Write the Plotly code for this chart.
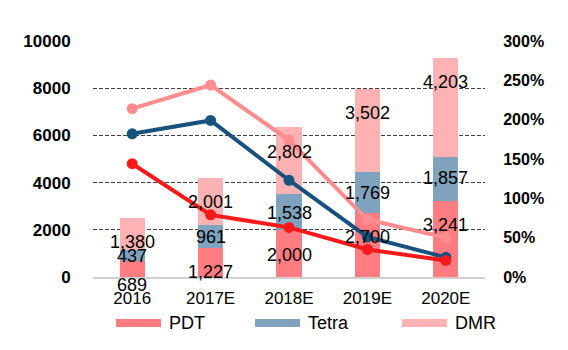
import plotly.graph_objects as go

categories = ["2016", "2017E", "2018E", "2019E", "2020E"]
pdt = [689, 1227, 2000, 2700, 3241]
tetra = [437, 961, 1538, 1769, 1857]
dmr = [1380, 2001, 2802, 3502, 4203]

# growth-rate lines (right axis, fraction)
line_pink = [2.14, 2.44, 1.74, 0.73, 0.50]
line_blue = [1.82, 1.99, 1.23, 0.51, 0.25]
line_red = [1.44, 0.79, 0.63, 0.35, 0.21]

# how far below each segment's top its label sits (value units)
drop_pdt = [1020, 1000, 1070, 995, 1040]
drop_tetra = [237, 482, 817, 901, 895]
drop_dmr = [1010, 1000, 1037, 1018, 1036]

series_names = ["PDT", "Tetra", "DMR"]

Y_MAX = 10000

C_PDT = "#FF7C80"
C_TETRA = "#7FA3BF"
C_DMR = "#FFB2B3"
C_LPINK = "#FF8C8E"
C_LBLUE = "#17527F"
C_LRED = "#F81A1A"
series_colors = [C_PDT, C_TETRA, C_DMR]

FONT = "Liberation Sans"
W, H = 568, 350
ML, MR, MT, MB = 93, 83, 41, 73
PW, PH = W - ML - MR, H - MT - MB

fig = go.Figure()
for name, vals, col in zip(series_names, [pdt, tetra, dmr], series_colors):
    fig.add_trace(go.Bar(x=categories, y=vals, name=name, marker=dict(color=col, line=dict(width=0)),
                         width=0.32, showlegend=False))

for vals, col in [(line_pink, C_LPINK), (line_blue, C_LBLUE), (line_red, C_LRED)]:
    fig.add_trace(go.Scatter(x=categories, y=vals, yaxis="y2", mode="lines+markers",
                             line=dict(color=col, width=4), marker=dict(color=col, size=11),
                             showlegend=False))

# data labels (paper y so labels below the axis stay visible)
for i, c in enumerate(categories):
    top_p = pdt[i]
    top_t = pdt[i] + tetra[i]
    top_d = top_t + dmr[i]
    for v, top, d in [(pdt[i], top_p, drop_pdt[i]), (tetra[i], top_t, drop_tetra[i]), (dmr[i], top_d, drop_dmr[i])]:
        fig.add_annotation(x=i, y=(top - d) / Y_MAX, text=f"{v:,}", showarrow=False,
                           xref="x", yref="paper", xanchor="center", yanchor="middle",
                           font=dict(family=FONT, size=18, color="black"))

# custom legend (wide swatches like the original)
legend_left_px = [116, 255, 402]
legend_y_px = 323
def px_x(p):
    return (p - ML) / PW
def px_y(p):
    return (H - MB - p) / PH
for name, col, lx in zip(series_names, series_colors, legend_left_px):
    fig.add_shape(type="rect", xref="paper", yref="paper",
                  x0=px_x(lx), x1=px_x(lx + 45), y0=px_y(legend_y_px + 4), y1=px_y(legend_y_px - 4),
                  fillcolor=col, line=dict(width=0))
    fig.add_annotation(x=px_x(lx + 51), y=px_y(legend_y_px), xref="paper", yref="paper",
                       text=name, showarrow=False, xanchor="left", yanchor="middle",
                       font=dict(family=FONT, size=18, color="black"))

fig.update_layout(
    width=W, height=H,
    margin=dict(l=ML, r=MR, t=MT, b=MB, autoexpand=False),
    barmode="stack",
    showlegend=False,
    plot_bgcolor="white", paper_bgcolor="white",
    font=dict(family=FONT, color="black"),
    xaxis=dict(type="category", range=[-0.5, 4.5], showgrid=False, showline=True,
               linecolor="#D0D0D0", linewidth=2,
               ticks="outside", ticklen=5, tickcolor="rgba(0,0,0,0)",
               tickfont=dict(family=FONT, size=17, color="black")),
    yaxis=dict(range=[0, Y_MAX], tickvals=[0, 2000, 4000, 6000, 8000, 10000],
               ticktext=["0", "2000", "4000", "6000", "8000", "10000"],
               showgrid=True, gridcolor="#404040", gridwidth=1, griddash="4px,2px",
               zeroline=False, ticks="outside", ticklen=18, tickcolor="rgba(0,0,0,0)",
               tickfont=dict(family=FONT, size=17, color="black", weight="bold")),
    yaxis2=dict(range=[0, 3], overlaying="y", side="right", tickvals=[0, 0.5, 1, 1.5, 2, 2.5, 3],
                tickformat=".0%", showgrid=False, zeroline=False,
                ticks="outside", ticklen=14, tickcolor="rgba(0,0,0,0)",
                tickfont=dict(family=FONT, size=16, color="black", weight="bold")),
)

fig.write_html("out.html")
